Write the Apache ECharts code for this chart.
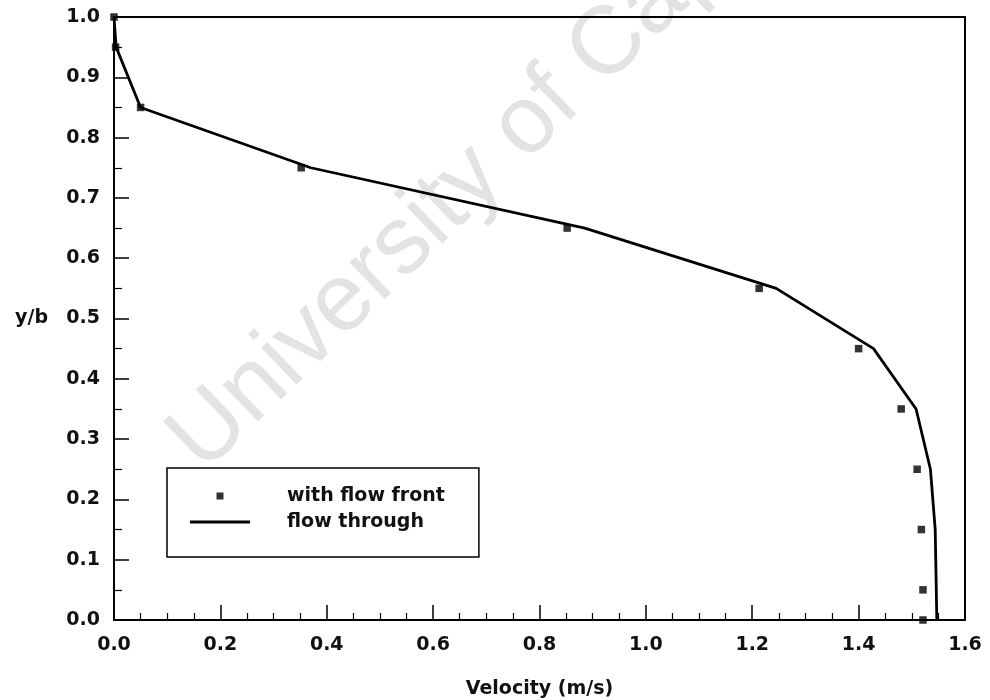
<!DOCTYPE html>
<html>
<head>
<meta charset="utf-8">
<script src="https://cdn.jsdelivr.net/npm/echarts@6/dist/echarts.min.js"></script>
<style>
  html, body { margin: 0; padding: 0; background: #fff; }
  #chart { width: 990px; height: 700px; }
</style>
</head>
<body>
<div id="chart"></div>
<script>
// Measured velocity profile with the flow front present
const flowFrontVelocity = [0.0, 0.003, 0.05, 0.352, 0.852, 1.213, 1.40, 1.48, 1.51, 1.518, 1.521, 1.521];
const flowFrontDepth    = [1.0, 0.95, 0.85, 0.75, 0.65, 0.55, 0.45, 0.35, 0.25, 0.15, 0.05, 0.0];

// Velocity profile for the flow-through case
const flowThroughVelocity = [0.0, 0.004, 0.05, 0.37, 0.885, 1.245, 1.428, 1.508, 1.535, 1.544, 1.546, 1.547];
const flowThroughDepth    = [1.0, 0.95, 0.85, 0.75, 0.65, 0.55, 0.45, 0.35, 0.25, 0.15, 0.05, 0.0];

const seriesNames = ['with flow front', 'flow through'];
const xAxisTitle = 'Velocity (m/s)';
const yAxisTitle = 'y/b';
const watermarkText = 'University of Cape Town';

const pairs = (xs, ys) => xs.map((x, i) => [x, ys[i]]);

const FONT = 'DejaVu Sans';
const chart = echarts.init(document.getElementById('chart'), null, { renderer: 'canvas' });

chart.setOption({
  animation: false,
  backgroundColor: '#ffffff',
  grid: {
    left: 114, right: 25, top: 17, bottom: 80,
    outerBoundsMode: 'none',
    containLabel: false,
    show: true, borderColor: '#000', borderWidth: 2, backgroundColor: 'transparent'
  },
  graphic: [{
    type: 'text',
    z: -10,
    x: 185, y: 455,
    rotation: 44 * Math.PI / 180,
    style: {
      text: watermarkText,
      font: '96px "Liberation Sans"',
      fill: '#e3e3e3',
      textAlign: 'left',
      textVerticalAlign: 'middle'
    }
  }],
  xAxis: {
    type: 'value',
    min: 0, max: 1.6, interval: 0.2,
    name: xAxisTitle,
    nameLocation: 'middle',
    nameGap: 60,
    nameTextStyle: { fontFamily: FONT, fontSize: 19, fontWeight: 'bold', color: '#111' },
    axisLine: { show: true, lineStyle: { color: '#000', width: 2 } },
    axisTick: { show: true, inside: true, length: 15, lineStyle: { color: '#000', width: 1.5 } },
    minorTick: { show: true, splitNumber: 4, length: 7, lineStyle: { color: '#000', width: 1.2 } },
    splitLine: { show: false },
    axisLabel: {
      margin: 16, fontFamily: FONT, fontSize: 19, fontWeight: 'bold', color: '#111',
      formatter: v => v.toFixed(1)
    }
  },
  yAxis: {
    type: 'value',
    min: 0, max: 1.0, interval: 0.1,
    name: yAxisTitle,
    nameLocation: 'middle',
    nameRotate: 0,
    nameGap: 66,
    nameTextStyle: { fontFamily: FONT, fontSize: 19, fontWeight: 'bold', color: '#111' },
    axisLine: { show: true, lineStyle: { color: '#000', width: 2 } },
    axisTick: { show: true, inside: true, length: 15, lineStyle: { color: '#000', width: 1.5 } },
    minorTick: { show: true, splitNumber: 2, length: 8, lineStyle: { color: '#000', width: 1.2 } },
    splitLine: { show: false },
    axisLabel: {
      margin: 14, fontFamily: FONT, fontSize: 19, fontWeight: 'bold', color: '#111',
      formatter: v => v.toFixed(1)
    }
  },
  legend: {
    orient: 'vertical',
    left: 167, top: 468,
    padding: [17, 34, 24, 23],
    itemWidth: 60, itemHeight: 7, itemGap: 4,
    borderColor: '#000', borderWidth: 1.5,
    backgroundColor: '#fff',
    textStyle: { fontFamily: FONT, fontSize: 19, fontWeight: 'bold', color: '#111',
                 lineHeight: 22, padding: [0, 0, 0, 32] },
    data: [
      { name: seriesNames[0], icon: 'path://M0,0H1V1H0Z' },
      { name: seriesNames[1], icon: 'path://M0,0H60V2.8H0Z' }
    ]
  },
  series: [
    {
      name: seriesNames[0],
      type: 'scatter',
      symbol: 'rect',
      symbolSize: 7.5,
      itemStyle: { color: '#000' },
      data: pairs(flowFrontVelocity, flowFrontDepth),
      z: 3
    },
    {
      name: seriesNames[1],
      type: 'line',
      showSymbol: false,
      symbol: 'none',
      lineStyle: { color: '#000', width: 2.8 },
      itemStyle: { color: '#000' },
      data: pairs(flowThroughVelocity, flowThroughDepth),
      z: 2
    }
  ]
});
</script>
</body>
</html>
